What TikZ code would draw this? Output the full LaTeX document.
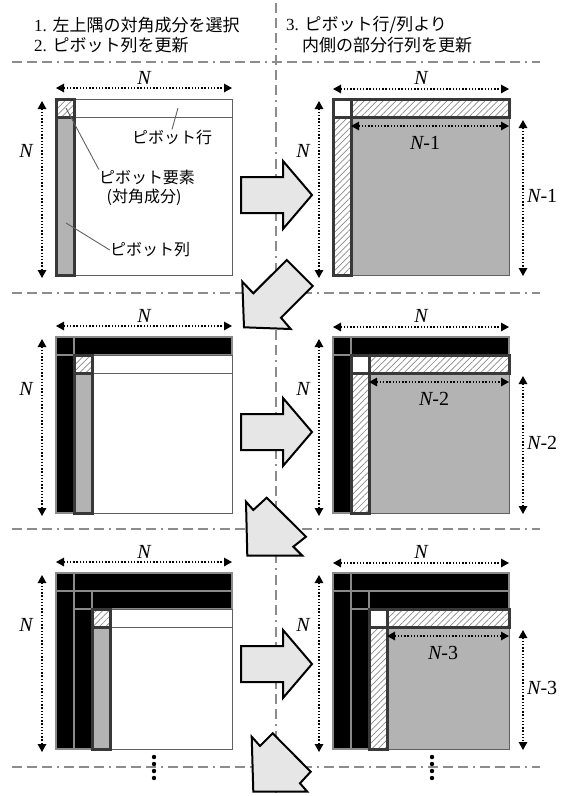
\documentclass[tikz,border=0pt]{standalone}
\usepackage{fontspec}
\setmainfont{Liberation Serif}
\newfontfamily\jp{Noto Sans CJK JP}
\usetikzlibrary{arrows.meta,patterns.meta,calc}
\definecolor{matgray}{HTML}{B3B3B3}
\definecolor{arrfill}{HTML}{E6E6E6}
\definecolor{sepc}{HTML}{8C8C8C}
\definecolor{thickc}{HTML}{383838}
\definecolor{thinc}{HTML}{606060}
\definecolor{hatchc}{HTML}{8A8A8A}
\definecolor{blksep}{HTML}{8A8A8A}
\newcommand\msize{176}
\newcommand\csz{18}
\tikzset{
 sepline/.style={draw=sepc, line width=2pt, dash pattern=on 10pt off 5pt on 10pt off 5pt on 10pt off 5pt on 2pt off 5pt},
 blk/.style={fill=black, draw=blksep, line width=1.4pt},
 thinb/.style={draw=thinc, line width=1pt},
 thickb/.style={draw=thickc, line width=3pt},
 hatch/.style={pattern={Lines[angle=45,distance=4.5pt,line width=0.7pt]}, pattern color=hatchc},
 dimarrow/.style={line width=1.4pt, dash pattern=on 1.4pt off 1.8pt, {Triangle[length=8pt,width=8.5pt]}-{Triangle[length=8pt,width=8.5pt]}},
 blockarrow/.style={fill=arrfill, draw=black, line width=2pt, line join=miter},
 hdr/.style={anchor=west, inner sep=0pt, font=\fontsize{17}{20}\selectfont},
 lbl/.style={inner sep=0pt, font=\jp\fontsize{16}{19}\selectfont},
 dimlbl/.style={inner sep=0pt, font=\fontsize{20}{24}\selectfont},
 leader/.style={draw=thinc, line width=0.9pt},
}
\newcommand{\blackblocks}[3]{%
  \ifnum#3>0
   \foreach \i in {1,...,#3}{%
    \pgfmathsetmacro\bAx{#1+(\i-1)*\csz}%
    \pgfmathsetmacro\bAy{#2+(\i-1)*\csz}%
    \pgfmathsetmacro\bBx{#1+\i*\csz}%
    \pgfmathsetmacro\bBy{#2+\i*\csz}%
    \pgfmathsetmacro\bEx{#1+\msize}%
    \pgfmathsetmacro\bEy{#2+\msize}%
    \draw[blk] (\bAx,\bAy) rectangle (\bBx,\bBy);
    \draw[blk] (\bBx,\bAy) rectangle (\bEx,\bBy);
    \draw[blk] (\bAx,\bBy) rectangle (\bBx,\bEy);
   }%
  \fi}
\newcommand{\pivotcoords}[3]{%
  \pgfmathsetmacro\pPx{#1+#3*\csz}%
  \pgfmathsetmacro\pPy{#2+#3*\csz}%
  \pgfmathsetmacro\pQx{\pPx+\csz}%
  \pgfmathsetmacro\pQy{\pPy+\csz}%
  \pgfmathsetmacro\pEx{#1+\msize}%
  \pgfmathsetmacro\pEy{#2+\msize}}
\newcommand{\leftpanel}[3]{%
  \blackblocks{#1}{#2}{#3}%
  \pivotcoords{#1}{#2}{#3}%
  \draw[thinb, fill=white] (\pQx,\pQy) rectangle (\pEx,\pEy);
  \draw[thinb, fill=white] (\pQx,\pPy) rectangle (\pEx,\pQy);
  \fill[matgray] (\pPx,\pQy) rectangle (\pQx,\pEy);
  \fill[white] (\pPx,\pPy) rectangle (\pQx,\pQy);
  \fill[hatch] (\pPx,\pPy) rectangle (\pQx,\pQy);
  \draw[thickb] (\pPx,\pPy) rectangle (\pQx,\pQy);
  \draw[thickb] (\pPx,\pPy) rectangle (\pQx,\pEy);
}
\newcommand{\rightpanel}[3]{%
  \blackblocks{#1}{#2}{#3}%
  \pivotcoords{#1}{#2}{#3}%
  \draw[thinb, fill=matgray] (\pQx,\pQy) rectangle (\pEx,\pEy);
  \fill[white] (\pPx,\pPy) rectangle (\pEx,\pQy);
  \fill[white] (\pPx,\pQy) rectangle (\pQx,\pEy);
  \fill[hatch] (\pQx,\pPy) rectangle (\pEx,\pQy);
  \fill[hatch] (\pPx,\pQy) rectangle (\pQx,\pEy);
  \draw[thickb] (\pPx,\pPy) rectangle (\pEx,\pQy);
  \draw[thickb] (\pPx,\pPy) rectangle (\pQx,\pEy);
}
\begin{document}
\begin{tikzpicture}[x=1pt,y=-1pt]
\useasboundingbox (0,0) rectangle (564,796);
% separator lines
\coordinate (vs) at (276,3); \coordinate (ve) at (276,796);
\draw[sepline] (vs) -- (ve);
\foreach \yy/\nm in {62/a,293/b,529/c,767/d}{
  \coordinate (hs\nm) at (12,\yy); \coordinate (he\nm) at (540,\yy);
  \draw[sepline] (hs\nm) -- (he\nm);
}
% headers
\node[hdr] (h1) at (34,25) {1. {\jp 左上隅の対角成分を選択}};
\node[hdr] (h2) at (34,45) {2. {\jp ピボット列を更新}};
\node[hdr] (h3) at (286,25) {3. {\jp ピボット行/列より}};
\node[hdr] (h4) at (302,45) {{\jp 内側の部分行列を更新}};
% panels
\leftpanel{56}{99}{0}
\rightpanel{333}{99}{0}
\leftpanel{56}{337}{1}
\rightpanel{333}{337}{1}
\leftpanel{56}{573}{2}
\rightpanel{333}{573}{2}
% labels panel 1
\node[lbl] (prow) at (172,137) {ピボット行};
\node[lbl] (pel) at (147,177) {ピボット要素};
\node[lbl] (pel2) at (144,197) {(対角成分)};
\node[lbl] (pcol) at (150,250) {ピボット列};
\coordinate (prowpt) at (178,108);
\coordinate (pelpt) at (66,108);
\coordinate (pcolpt) at (66,223);
\draw[leader] (prowpt) -- (prow.north);
\draw[leader] (pelpt) -- (pel.north west);
\draw[leader] (pcolpt) -- (pcol.west);
% dimension arrows
\foreach \yo/\nm in {99/a,337/b,573/c}{
  \coordinate (lt1\nm) at (56,\yo-11); \coordinate (lt2\nm) at (232,\yo-11);
  \draw[dimarrow] (lt1\nm) -- (lt2\nm);
  \node[dimlbl] (ltN\nm) at (144,\yo-21) {\itshape N};
  \coordinate (lv1\nm) at (42,\yo+2); \coordinate (lv2\nm) at (42,\yo+179);
  \draw[dimarrow] (lv1\nm) -- (lv2\nm);
  \node[dimlbl] (lvN\nm) at (26,\yo+52) {\itshape N};
  \coordinate (rt1\nm) at (333,\yo-10); \coordinate (rt2\nm) at (509,\yo-10);
  \draw[dimarrow] (rt1\nm) -- (rt2\nm);
  \node[dimlbl] (rtN\nm) at (421,\yo-21) {\itshape N};
  \coordinate (rv1\nm) at (319,\yo+2); \coordinate (rv2\nm) at (319,\yo+179);
  \draw[dimarrow] (rv1\nm) -- (rv2\nm);
  \node[dimlbl] (rvN\nm) at (303,\yo+52) {\itshape N};
}
% inner dimension arrows, right panels
\foreach \yo/\k/\nm in {99/1/a,337/2/b,573/3/c}{
  \pgfmathsetmacro\ix{333+\k*18}
  \pgfmathsetmacro\iy{\yo+\k*18+9}
  \pgfmathsetmacro\mx{(\ix+509)/2-5}
  \pgfmathsetmacro\vy{\yo+\k*18+3}
  \pgfmathsetmacro\my{(\vy+\yo+176)/2-2}
  \coordinate (ih1\nm) at (\ix,\iy); \coordinate (ih2\nm) at (509,\iy);
  \draw[dimarrow] (ih1\nm) -- (ih2\nm);
  \node[dimlbl] (ihN\nm) at (\mx,\iy+17) {{\itshape N}-\k};
  \coordinate (iv1\nm) at (523,\vy); \coordinate (iv2\nm) at (523,\yo+177);
  \draw[dimarrow] (iv1\nm) -- (iv2\nm);
  \node[dimlbl, anchor=west] (ivN\nm) at (527,\my) {{\itshape N}-\k};
}
% vertical dots
\foreach \xx in {154,432}{
  \foreach \yy in {757,764,771,778}{
    \fill (\xx,\yy) circle (2.2pt);
  }
}
% right block arrows
\foreach \yc in {195,432,664}{
  \draw[blockarrow] (241,\yc-18) -- (283,\yc-18) -- (283,\yc-34) -- (312,\yc)
     -- (283,\yc+34) -- (283,\yc+18) -- (241,\yc+18) -- cycle;
}
% diagonal block arrows
\draw[blockarrow] (286.7,260) -- (312.7,286) -- (281,317.7) -- (290.7,329) -- (244,327.3) -- (242.3,281.7) -- (253.3,293.3) -- cycle;
\draw[blockarrow] (266.7,497.7) -- (306,536.7) -- (293.3,546.7) -- (302.3,555.7) -- (247.3,555.7) -- (246,501.7) -- (253.3,510) -- cycle;
\draw[blockarrow] (272.7,733.3) -- (310.7,771.7) -- (300,783.3) -- (307.3,791.7) -- (253.3,791.7) -- (251.7,736.7) -- (260,746) -- cycle;
\end{tikzpicture}
\end{document}
